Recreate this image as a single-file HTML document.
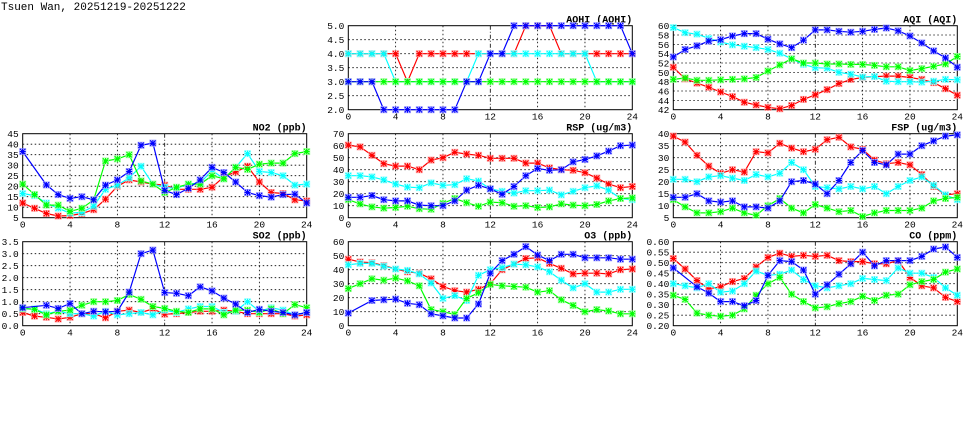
<!DOCTYPE html>
<html><head><meta charset="utf-8"><style>
body{margin:0;background:#fff;}
svg{display:block;font-family:"Liberation Mono","DejaVu Sans Mono",monospace;}
</style></head><body>
<svg id="chart" width="975" height="447" viewBox="0 0 975 447" xmlns="http://www.w3.org/2000/svg">
<rect width="975" height="447" fill="#fff"/>
<text x="1" y="10" font-size="11" fill="#000">Tsuen Wan, 20251219-20251222</text>
</svg>
<script>
const hours=[0,1,2,3,4,5,6,7,8,9,10,11,12,13,14,15,16,17,18,19,20,21,22,23,24];
const xTicks=[0,4,8,12,16,20,24];
const seriesColors=["#ff0000","#00ffff","#00ff00","#0000ff"];

const aqhiRed=[4,4,4,4,4,3,4,4,4,4,4,4,4,4,4,5,5,5,4,4,4,4,4,4,4];
const aqhiCyan=[4,4,4,4,3,3,3,3,3,3,3,4,4,4,4,4,4,4,4,4,4,3,3,3,3];
const aqhiGreen=[3,3,3,3,3,3,3,3,3,3,3,3,3,3,3,3,3,3,3,3,3,3,3,3,3];
const aqhiBlue=[3,3,3,2,2,2,2,2,2,2,3,3,4,4,5,5,5,5,5,5,5,5,5,5,4];
const aqhiTicks=[2.0,2.5,3.0,3.5,4.0,4.5,5.0];

const aqiRed=[51.1,48.6,47.7,46.8,45.8,44.8,43.6,43,42.5,42.2,42.9,44.2,45.2,46.3,47.6,48.5,48.9,49.1,49.2,49.2,48.9,48.5,47.8,46.5,45.1];
const aqiCyan=[59.6,58.5,58.2,57.3,56.5,55.9,55.6,55.3,54.9,54.1,52.9,51.7,51,50.9,50,49.6,49,49.1,48.1,48,48,47.9,48.1,48.5,48.4];
const aqiGreen=[48.5,48.8,48.3,48.3,48.4,48.5,48.6,48.9,50.3,51.6,52.9,52,52,51.8,51.8,51.7,51.7,51.5,51.2,51.2,50.4,50.8,51.3,51.8,53.4];
const aqiBlue=[53.3,54.9,55.7,56.7,57,57.8,58.3,58.3,57.1,56.1,55.3,56.9,59.1,59.1,58.8,58.6,58.8,59.2,59.5,58.9,57.8,56.3,54.6,53.1,51.1];
const aqiTicks=[42,44,46,48,50,52,54,56,58,60];

const no2Red=[12,9.5,7,5.8,6,7,8.8,13.8,20,23,22,21,20.5,18.5,18.5,18.5,19.5,24.5,26.8,29.5,22,17,16.5,13.5,13];
const no2Cyan=[16.5,15.5,12,9.5,7.2,7.5,10.5,18.5,20.5,24,29.5,21,19.5,19,21,21.5,27.5,23.5,29,35.5,27,26.5,25,20.5,21];
const no2Green=[21,16,11,11,8,9.5,13.5,32,33,35,22.5,21,17,19.5,21,21,25,23.5,29,28,30.5,31,31,35.5,36.5];
const no2Blue=[36.5,null,20.6,16,14.2,15,13.5,20.5,23,27,39.5,40.5,18,16,19,23,29,26.5,22,17,15.5,14.8,16,16.2,12];
const no2Ticks=[5,10,15,20,25,30,35,40,45];

const rspRed=[60.5,59,52,45,43,43,40,48,50,54.5,53,52,49.5,49.5,49.5,45.5,45.5,41.5,40,39.5,37.5,33,28,25,26];
const rspCyan=[35,35,34,31.5,28,25.5,25,29,27,27.5,32.5,30.5,24,22,20.5,22.5,22.5,23,19,22,25,26.5,23,16,15];
const rspGreen=[15,11.5,9,8,8.5,9.5,7.5,7,12,16,12.5,9.5,13,12.5,9.5,10,8.5,9,11.5,10.5,10,11,14,16,16.5];
const rspBlue=[17,17,18.5,15,14,14,10.5,10,10,14,23,27,24,19.5,26,35,41,39.5,40,46.5,48.5,51.5,55.5,60,60.5];
const rspTicks=[0,10,20,30,40,50,60,70];

const fspRed=[39,36.5,31,26.5,23.5,25,24,32.5,32,36,34,32.5,33.5,37.5,38.5,34.5,33.5,29,27.5,28,27,23,18,14.5,15];
const fspCyan=[21,21,20,22,22.5,21.5,20.5,23,22,23.5,28,25,18,17.5,17,18,17,18,15,18,20.5,22,18.5,14.5,12.5];
const fspGreen=[12.5,9.5,7,7,7.5,9,7,6,10,13,9,7,10.5,9,7.5,8,5.5,7,8,8,8,9,12,13,13.5];
const fspBlue=[13.5,13.5,15,12,11.5,12,9.5,9.5,9,12,20,20.5,19,15,20.5,28,33,28,27,31.5,31.5,35,37,39,39.5];
const fspTicks=[5,10,15,20,25,30,35,40];

const so2Red=[0.55,0.4,0.35,0.28,0.35,0.5,0.5,0.33,0.6,0.65,0.55,0.7,0.48,0.5,0.55,0.6,0.6,0.65,0.6,0.5,0.5,0.5,0.5,0.4,0.45];
const so2Cyan=[0.7,0.7,0.5,0.6,0.5,0.5,0.4,0.6,0.45,0.5,0.55,0.45,0.65,0.55,0.7,0.8,0.8,0.55,0.6,1.0,0.6,0.75,0.65,0.45,0.55];
const so2Green=[0.72,0.68,0.45,0.6,0.65,0.85,1.0,1.0,1.05,1.3,1.1,0.8,0.72,0.6,0.55,0.7,0.7,0.45,0.65,0.65,0.55,0.7,0.5,0.88,0.75];
const so2Blue=[0.75,null,0.85,0.72,0.92,0.5,0.6,0.58,0.6,1.4,3.0,3.15,1.38,1.35,1.25,1.62,1.45,1.15,0.9,0.55,0.68,0.6,0.55,0.45,0.55];
const so2Ticks=[0.0,0.5,1.0,1.5,2.0,2.5,3.0,3.5];

const o3Red=[47.5,45.5,45,43,40.5,38.5,37.5,33.5,28,25,24,26,30,40,44,48,48.5,44.5,41,37,37.5,37.5,37,40,40.5];
const o3Cyan=[43.5,44.5,44.5,42.5,40.5,39.5,37,30.5,19.5,21.5,18,36,40,41.5,44,43.5,42,38.5,32.5,27,30,24,24,26,26];
const o3Green=[26.5,30,33.5,32.5,34,32,28.5,11.5,10,8,19.5,23.5,29.5,28.5,28,27.5,24,25,18.5,14.5,10,11.5,10.5,8.5,8.5];
const o3Blue=[9,null,18,18.5,19,16,15,8.5,7,5.5,5.5,15.5,37.5,46.5,51,56.5,50.5,46.5,51,51,48.5,48.5,48.5,47.5,47.5];
const o3Ticks=[0,10,20,30,40,50,60];

const coRed=[0.52,0.47,0.415,0.375,0.385,0.41,0.425,0.48,0.525,0.545,0.53,0.535,0.53,0.535,0.51,0.505,0.505,0.495,0.495,0.51,0.43,0.39,0.38,0.335,0.315];
const coCyan=[0.4,0.39,0.38,0.4,0.36,0.365,0.4,0.46,0.44,0.445,0.465,0.42,0.39,0.38,0.39,0.40,0.425,0.42,0.415,0.475,0.45,0.45,0.43,0.38,0.345];
const coGreen=[0.345,0.325,0.26,0.25,0.245,0.25,0.28,0.345,0.4,0.43,0.35,0.315,0.285,0.29,0.305,0.315,0.34,0.32,0.345,0.35,0.395,0.41,0.42,0.455,0.47];
const coBlue=[0.475,null,0.385,0.355,0.315,0.315,0.295,0.32,0.44,0.51,0.505,0.465,0.35,0.395,0.445,0.495,0.55,0.485,0.51,0.51,0.51,0.53,0.565,0.575,0.525];
const coTicks=[0.20,0.25,0.30,0.35,0.40,0.45,0.50,0.55,0.60];

const NS="http://www.w3.org/2000/svg";
const svg=document.getElementById('chart');
function mk(tag,attrs,parent){const e=document.createElementNS(NS,tag);for(const k in attrs)e.setAttribute(k,attrs[k]);(parent||svg).appendChild(e);return e;}

const panels=[
 {name:"aqhi",title:"AQHI (AQHI)",x:348.3,y:25.7,ticks:aqhiTicks,dec:1,series:[aqhiRed,aqhiCyan,aqhiGreen,aqhiBlue]},
 {name:"aqi",title:"AQI (AQI)",x:673.3,y:25.7,ticks:aqiTicks,dec:0,series:[aqiRed,aqiCyan,aqiGreen,aqiBlue]},
 {name:"no2",title:"NO2 (ppb)",x:22.7,y:133.7,ticks:no2Ticks,dec:0,series:[no2Red,no2Cyan,no2Green,no2Blue]},
 {name:"rsp",title:"RSP (ug/m3)",x:348.3,y:133.7,ticks:rspTicks,dec:0,series:[rspRed,rspCyan,rspGreen,rspBlue]},
 {name:"fsp",title:"FSP (ug/m3)",x:673.3,y:133.7,ticks:fspTicks,dec:0,series:[fspRed,fspCyan,fspGreen,fspBlue]},
 {name:"so2",title:"SO2 (ppb)",x:22.7,y:241.7,ticks:so2Ticks,dec:1,series:[so2Red,so2Cyan,so2Green,so2Blue]},
 {name:"o3",title:"O3 (ppb)",x:348.3,y:241.7,ticks:o3Ticks,dec:0,series:[o3Red,o3Cyan,o3Green,o3Blue]},
 {name:"co",title:"CO (ppm)",x:673.3,y:241.7,ticks:coTicks,dec:2,series:[coRed,coCyan,coGreen,coBlue]}
];
const W=284,H=84;
const colorNames=["red","cyan","green","blue"];
const lightColors=["#ffaaaa","#aaffff","#aaffaa","#aaaaff"];

panels.forEach(p=>{
  const g=mk('g',{});
  
  
  const ymin=p.ticks[0],ymax=p.ticks[p.ticks.length-1];
  const sx=v=>p.x+v/24*W;
  const sy=v=>p.y+H-(v-ymin)/(ymax-ymin)*H;
  p.ticks.forEach(t=>{
    const yy=sy(t);
    if(t!==ymin&&t!==ymax){const l=mk('line',{x1:p.x,x2:p.x+W,y1:yy,y2:yy,stroke:'#000','stroke-width':0.8,'stroke-dasharray':'1.5,2.5'},g);
      }
    const tx=mk('text',{x:p.x-4,y:yy+3.5,'font-size':9.5,'text-anchor':'end',fill:'#000'},g);
    
    tx.textContent=t.toFixed(p.dec);
  });
  xTicks.forEach(t=>{
    const xx=sx(t);
    if(t!==0&&t!==24){const l=mk('line',{x1:xx,x2:xx,y1:p.y,y2:p.y+H,stroke:'#000','stroke-width':0.8,'stroke-dasharray':t===12?'4,2,1,2':'1.5,2.5'},g);
      }
    const tx=mk('text',{x:xx,y:p.y+H+10,'font-size':9.5,'text-anchor':'middle',fill:'#000'},g);
    
    tx.textContent=t;
  });
  const fr=mk('rect',{x:p.x,y:p.y,width:W,height:H,fill:'none',stroke:'#000','stroke-width':1},g);
  
  const tt=mk('text',{x:p.x+W,y:p.y-3,'font-size':10,'font-weight':'bold','text-anchor':'end',fill:'#000'},g);
  
  tt.textContent=p.title;
  p.series.forEach((vals,si)=>{
    const pts=[];
    hours.forEach((h,i)=>{if(vals[i]!==null&&vals[i]!==undefined)pts.push([sx(h),sy(vals[i])]);});
    const pl=mk('polyline',{points:pts.map(q=>q[0].toFixed(1)+','+q[1].toFixed(1)).join(' '),fill:'none',stroke:seriesColors[si],'stroke-width':1.2},g);
    
    
    pts.forEach(q=>{
      const m=mk('g',{},g);
      
      
      mk('rect',{x:q[0]-3,y:q[1]-3,width:6,height:6,fill:'none',stroke:lightColors[si],'stroke-width':1},m);
      mk('path',{d:`M${q[0]-2.7},${q[1]-2.7}L${q[0]+2.7},${q[1]+2.7}M${q[0]-2.7},${q[1]+2.7}L${q[0]+2.7},${q[1]-2.7}M${q[0]-3},${q[1]}L${q[0]+3},${q[1]}M${q[0]},${q[1]-3}L${q[0]},${q[1]+3}`,stroke:seriesColors[si],'stroke-width':1.1},m);
    });
  });
});
</script>
</body></html>
